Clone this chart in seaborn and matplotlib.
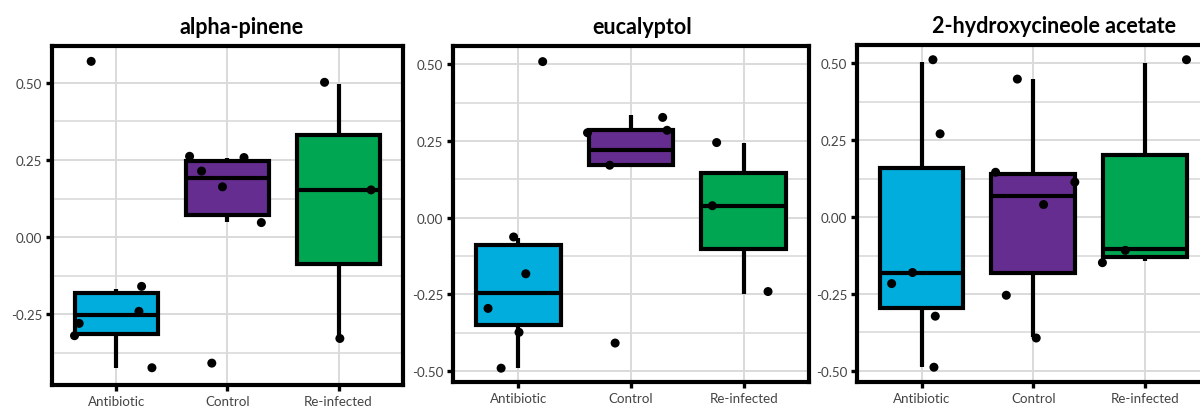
import numpy as np
import pandas as pd
import matplotlib
matplotlib.use("Agg")
import matplotlib.pyplot as plt
import seaborn as sns
from matplotlib.ticker import MultipleLocator, FuncFormatter

# groups and colours
groups = ["Antibiotic", "Control", "Re-infected"]
colors = ["#00ADDC", "#662D91", "#00A651"]
compounds = ["alpha-pinene", "eucalyptol", "2-hydroxycineole acetate"]

# box stats per group: [whisker low, q1, median, q3, whisker high]
alpha_box = {
    "Antibiotic": [-0.426, -0.313, -0.253, -0.182, -0.167],
    "Control": [0.050, 0.070, 0.190, 0.246, 0.256],
    "Re-infected": [-0.329, -0.086, 0.154, 0.332, 0.495],
}
euca_box = {
    "Antibiotic": [-0.489, -0.349, -0.246, -0.089, -0.067],
    "Control": [0.171, 0.171, 0.222, 0.287, 0.336],
    "Re-infected": [-0.248, -0.101, 0.037, 0.146, 0.243],
}
hydroxy_box = {
    "Antibiotic": [-0.487, -0.295, -0.183, 0.159, 0.506],
    "Control": [-0.390, -0.181, 0.068, 0.140, 0.448],
    "Re-infected": [-0.144, -0.129, -0.105, 0.203, 0.501],
}

# jittered sample points (value, horizontal jitter)
alpha_pts = {
    "Antibiotic": [0.570, -0.320, -0.280, -0.160, -0.241, -0.424],
    "Control": [0.262, 0.214, 0.163, 0.258, 0.047, -0.409],
    "Re-infected": [0.502, 0.153, -0.329],
}
alpha_jit = {
    "Antibiotic": [-0.227, -0.377, -0.335, 0.227, 0.203, 0.320],
    "Control": [-0.341, -0.233, -0.045, 0.149, 0.305, -0.141],
    "Re-infected": [-0.126, 0.293, 0.012],
}
euca_pts = {
    "Antibiotic": [0.509, -0.063, -0.183, -0.296, -0.374, -0.491],
    "Control": [0.277, 0.171, 0.327, 0.285, -0.409],
    "Re-infected": [0.245, 0.039, -0.241],
}
euca_jit = {
    "Antibiotic": [0.216, -0.042, 0.066, -0.269, 0.006, -0.153],
    "Control": [-0.386, -0.189, 0.281, 0.320, -0.141],
    "Re-infected": [-0.240, -0.278, 0.216],
}
hydroxy_pts = {
    "Antibiotic": [0.512, 0.271, -0.180, -0.216, -0.322, -0.488],
    "Control": [0.449, 0.146, 0.114, 0.041, -0.254, -0.393],
    "Re-infected": [0.512, -0.108, -0.148],
}
hydroxy_jit = {
    "Antibiotic": [0.102, 0.166, -0.081, -0.268, 0.123, 0.111],
    "Control": [-0.142, -0.337, 0.373, 0.093, -0.241, 0.027],
    "Re-infected": [0.373, -0.175, -0.380],
}

ylims = [(-0.48, 0.62), (-0.536, 0.56), (-0.536, 0.56)]
title_x = [0.54, 0.53, 0.56]

sns.set_theme(style="white")
plt.rcParams["font.family"] = ["Lato", "DejaVu Sans"]

fig = plt.figure(figsize=(12, 4.1), dpi=100)
positions = [
    [0.0433, 0.0585, 0.2925, 0.827],
    [0.3775, 0.0659, 0.2967, 0.8195],
    [0.7140, 0.0659, 0.2940, 0.822],
]

panels = [(alpha_box, alpha_pts, alpha_jit),
          (euca_box, euca_pts, euca_jit),
          (hydroxy_box, hydroxy_pts, hydroxy_jit)]

for i, (box, pts, jit) in enumerate(panels):
    ax = fig.add_axes(positions[i])

    box_df = pd.DataFrame([(g, v) for g in groups for v in box[g]],
                          columns=["group", "value"])
    sns.boxplot(data=box_df, x="group", y="value", hue="group", order=groups,
                hue_order=groups, palette=colors, saturation=1, whis=(0, 100),
                width=0.75, linewidth=3.0, linecolor="black", fliersize=0,
                legend=False, capprops={"visible": False}, ax=ax)

    pt_df = pd.DataFrame([(groups.index(g) + j, v) for g in groups
                          for v, j in zip(pts[g], jit[g])], columns=["x", "value"])
    sns.scatterplot(data=pt_df, x="x", y="value", color="black", s=42,
                    edgecolor="none", zorder=5, ax=ax)

    ax.set_xlim(-0.58, 2.58)
    ax.set_ylim(*ylims[i])
    ax.set_xticks(range(len(groups)))
    ax.set_xticklabels(groups)
    ax.yaxis.set_major_locator(MultipleLocator(0.25))
    ax.yaxis.set_minor_locator(MultipleLocator(0.125))
    ax.yaxis.set_major_formatter(FuncFormatter(lambda v, _: f"{v:.2f}".replace("\u2212", "-")))
    ax.set_xlabel("")
    ax.set_ylabel("")

    ax.grid(True, which="major", color="#dadada", linewidth=1.4)
    ax.grid(True, which="minor", axis="y", color="#dadada", linewidth=1.2)
    ax.set_axisbelow(True)

    for s in ax.spines.values():
        s.set_visible(True)
        s.set_color("black")
        s.set_linewidth(3.0)
    ax.tick_params(axis="both", which="major", length=4, width=2.4, color="black",
                   labelcolor="#444444", labelsize=9.6, pad=3, direction="out",
                   bottom=True, left=True)
    ax.tick_params(axis="y", which="minor", length=0)

    ax.set_title(compounds[i], x=title_x[i], pad=9, fontsize=15.5,
                 fontweight="bold", color="black")

fig.savefig("out.png", dpi=100)
